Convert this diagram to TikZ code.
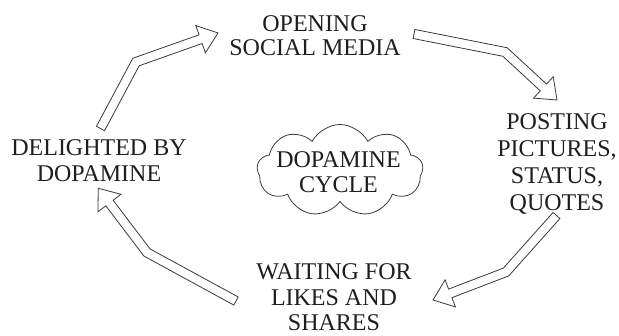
\documentclass[tikz,border=0pt]{standalone}
\usepackage{fontspec}
\setmainfont{Liberation Serif}
\usetikzlibrary{calc,shapes.symbols}
\definecolor{ink}{HTML}{1E1E1E}
\definecolor{edge}{HTML}{3A3A3A}
\tikzset{
  lbl/.style={align=center, inner sep=0pt, text depth=0pt, text=ink},
  blockarrow/.style={draw=edge, line width=0.8pt, line join=miter, fill=white},
  cloudbox/.style={cloud, cloud puffs=9, cloud puff arc=125, cloud ignores aspect,
    draw=edge, line width=0.8pt, minimum width=166pt, minimum height=92pt, inner sep=0pt}
}
\newcommand\hollowarrow[4]{%
 \coordinate (#1H) at ($(#4)!18.5pt!(#3)$);
 \coordinate (#1pa) at ($(#2)!4.6pt!90:(#3)$);
 \coordinate (#1pb) at ($(#3)!4.6pt!-90:(#2)$);
 \coordinate (#1pc) at ($(#3)!4.6pt!90:(#4)$);
 \coordinate (#1pd) at ($(#1H)!4.6pt!-90:(#3)$);
 \coordinate (#1pe) at ($(#1H)!14.5pt!-90:(#3)$);
 \coordinate (#1qe) at ($(#1H)!14.5pt!90:(#3)$);
 \coordinate (#1qd) at ($(#1H)!4.6pt!90:(#3)$);
 \coordinate (#1qc) at ($(#3)!4.6pt!-90:(#4)$);
 \coordinate (#1qb) at ($(#3)!4.6pt!90:(#2)$);
 \coordinate (#1qa) at ($(#2)!4.6pt!-90:(#3)$);
 \draw[blockarrow] (#1pa) -- (intersection of #1pa--#1pb and #1pc--#1pd) -- (#1pd) -- (#1pe) -- (#4)
   -- (#1qe) -- (#1qd) -- (intersection of #1qa--#1qb and #1qc--#1qd) -- (#1qa) -- cycle;
}
\begin{document}
\begin{tikzpicture}[x=1pt,y=-1pt]
\useasboundingbox (0,0) rectangle (619,335);
% labels
\node[lbl, font=\fontsize{24}{24}\selectfont] (open) at (315,36) {OPENING\\SOCIAL MEDIA};
\node[lbl, font=\fontsize{24}{27}\selectfont] (post) at (557,162) {POSTING\\PICTURES,\\STATUS,\\QUOTES};
\node[lbl, font=\fontsize{24}{25.5}\selectfont] (wait) at (334,297.5) {WAITING FOR\\LIKES AND\\SHARES};
\node[lbl, font=\fontsize{24}{26.5}\selectfont] (delight) at (99,160.7) {DELIGHTED BY\\DOPAMINE};
% cloud
\node[cloudbox, path picture={\node[lbl, font=\fontsize{24}{25}\selectfont] (cycletext) at ([xshift=-1.5pt,yshift=-2pt]path picture bounding box.center) {DOPAMINE\\CYCLE};}] (cloud) at (340,170.5) {};
% arrow points
\coordinate (aT) at (100.5,128.5); \coordinate (aB) at (136,62);    \coordinate (aP) at (218,33);
\coordinate (bT) at (414,34);      \coordinate (bB) at (505,52);    \coordinate (bP) at (557,100);
\coordinate (cT) at (556.5,215.5); \coordinate (cB) at (506,272);   \coordinate (cP) at (433,300);
\coordinate (dT) at (236,301);     \coordinate (dB) at (147,252.5); \coordinate (dP) at (98.3,188.3);
\hollowarrow{A}{aT}{aB}{aP}
\hollowarrow{B}{bT}{bB}{bP}
\hollowarrow{C}{cT}{cB}{cP}
\hollowarrow{D}{dT}{dB}{dP}
\end{tikzpicture}
\end{document}
